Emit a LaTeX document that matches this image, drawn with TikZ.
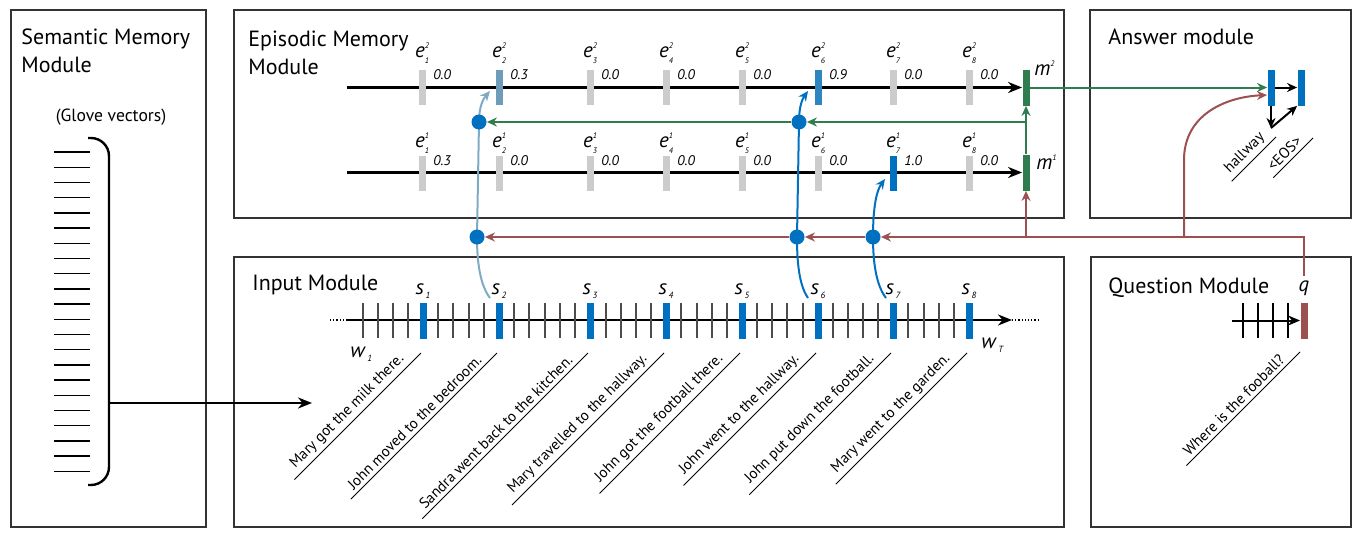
\documentclass[tikz,border=0pt]{standalone}
\usepackage{fontspec}
\setmainfont{PT Sans}
\usetikzlibrary{arrows.meta,calc}
\definecolor{boxline}{HTML}{333333}
\definecolor{tickgray}{HTML}{CCCCCC}
\definecolor{blue}{HTML}{0070C0}
\definecolor{midblue}{HTML}{2E86C1}
\definecolor{paleblue}{HTML}{6F9DB9}
\definecolor{curveblue}{HTML}{7FAAC4}
\definecolor{green}{HTML}{2F7D4F}
\definecolor{brown}{HTML}{9C5050}
\tikzset{
  module/.style={draw=boxline,line width=0.65pt},
  title/.style={anchor=north west,inner sep=0pt,align=left,font=\fontsize{11}{14}\selectfont},
  ebar/.style={minimum width=3.5pt,minimum height=17.5pt,inner sep=0pt},
  sbar/.style={fill=blue,minimum width=3.5pt,minimum height=18pt,inner sep=0pt},
  mbar/.style={fill=green,minimum width=3.5pt,minimum height=18pt,inner sep=0pt},
  dot/.style={circle,fill=blue,minimum size=7.5pt,inner sep=0pt},
  elabel/.style={anchor=base,inner sep=0pt,font=\fontsize{10.5}{10}\selectfont},
  value/.style={anchor=base west,inner sep=0pt,font=\fontsize{7}{8}\selectfont\itshape},
  sentence/.style={rotate=45,anchor=south east,inner xsep=0pt,inner ysep=1.8pt,font=\fontsize{7.5}{8}\selectfont},
  wordtick/.style={draw=black!70,line width=0.6pt},
  timeline/.style={draw=black,line width=1.2pt,-{Stealth[length=7pt,width=5.5pt]}},
  arr/.style={-{Stealth[length=5pt,width=4.5pt]},line width=1pt},
  greenarr/.style={arr,draw=green},
  brownarr/.style={arr,draw=brown},
}
\newcommand\supsub[3]{\textit{#1}\rlap{\raisebox{0.85ex}{\fontsize{4}{4}\selectfont\itshape #2}}\raisebox{-0.6ex}{\fontsize{4}{4}\selectfont\itshape #3}}
\newcommand\subonly[2]{\textit{#1}\raisebox{-0.45ex}{\fontsize{4.5}{5}\selectfont\itshape\,#2}}
\newcommand\sent[1]{\kern4pt#1\kern8pt}

\begin{document}
\begin{tikzpicture}[x=0.5pt,y=-0.5pt]
  \useasboundingbox (0,0) rectangle (1362,536);
  % module frames
  \draw[module] (11,10) rectangle (206,527);
  \draw[module] (234,10) rectangle (1064,218);
  \draw[module] (1090,10) rectangle (1351,218);
  \draw[module] (234,257) rectangle (1064,527);
  \draw[module] (1091,257) rectangle (1351,527);
  \node[title] (semtitle) at (21,28) {Semantic Memory\\Module};
  \node[title] (epititle) at (248,31) {Episodic Memory\\Module};
  \node[title] (anstitle) at (1108,28) {Answer module};
  \node[title] (inptitle) at (252,275) {Input Module};
  \node[title] (questitle) at (1108,277) {Question Module};

  % semantic memory
  \node[font=\fontsize{8.8}{10}\selectfont] (glove) at (111,117) {(Glove vectors)};
  \foreach \k in {0,...,21}
    \draw[line width=0.7pt] (54,{152+15.2*\k}) -- (90,{152+15.2*\k});
  \draw[line width=1.2pt,rounded corners=9pt] (88,138) -- (109,138) -- (109,485) -- (88,485);
  \coordinate (brk) at (109,403);
  \coordinate (semin) at (312,403);
  \draw[timeline] (brk) -- (semin);

  % episodic memory
  \node[mbar] (m2) at (1026,87.5) {};
  \node[mbar] (m1) at (1026,172.5) {};
  \node[anchor=base west,inner sep=0pt,font=\fontsize{10.5}{10}\selectfont] (m2lab) at (1034,75) {\textit{m}\raisebox{0.8ex}{\fontsize{4}{4}\selectfont\itshape 2}};
  \node[anchor=base west,inner sep=0pt,font=\fontsize{10.5}{10}\selectfont] (m1lab) at (1036,169) {\textit{m}\raisebox{0.8ex}{\fontsize{4}{4}\selectfont\itshape 1}};
  \coordinate (eu0) at (347,87.5);
  \coordinate (el0) at (347,172.5);
  \draw[timeline] (eu0) -- (m2);
  \draw[timeline] (el0) -- (m1);
  \foreach \i/\x/\cu/\vu/\cl/\vl in {
    1/422/tickgray/0.0/tickgray/0.3,
    2/499/paleblue/0.3/tickgray/0.0,
    3/590/tickgray/0.0/tickgray/0.0,
    4/666/tickgray/0.0/tickgray/0.0,
    5/742/tickgray/0.0/tickgray/0.0,
    6/818/midblue/0.9/tickgray/0.0,
    7/893/tickgray/0.0/blue/1.0,
    8/969/tickgray/0.0/tickgray/0.0}{
    \node[ebar,fill=\cu] (eu\i) at (\x,87.5) {};
    \node[ebar,fill=\cl] (el\i) at (\x,173.5) {};
    \node[elabel] (eul\i) at (\x,57) {\supsub{e}{2}{\i}};
    \node[elabel] (ell\i) at (\x,147) {\supsub{e}{1}{\i}};
    \node[value] (vu\i) at (\x+11,79) {\vu};
    \node[value] (vl\i) at (\x+11,165) {\vl};
  }

  % input module
  \coordinate (idl) at (330,320);
  \coordinate (istart) at (347,320);
  \coordinate (iend) at (1012,320);
  \coordinate (idr) at (1040,320);
  \draw[densely dotted,line width=0.6pt] (idl) -- (istart);
  \draw[densely dotted,line width=0.6pt] (iend) -- (idr);
  \draw[timeline] (istart) -- (iend);
  \foreach \x in {363,378,393,408,438,453,469,484,514,529,545,560,575,606,621,636,651,
                  681,697,712,727,757,772,787,803,833,848,863,878,908,924,939,954}
    \draw[wordtick] (\x,303) -- (\x,338);
  \foreach \i/\x/\txt in {
    1/423/Mary got the milk there.,
    2/499/John moved to the bedroom.,
    3/590/Sandra went back to the kitchen.,
    4/666/Mary travelled to the hallway.,
    5/742/John got the football there.,
    6/818/John went to the hallway.,
    7/893/John put down the football.,
    8/969/Mary went to the garden.}{
    \node[sbar] (s\i) at (\x,320.5) {};
    \node[elabel] (sl\i) at (\x,294) {\subonly{s}{\i}};
    \node[sentence] (t\i) at (\x-2,353) {\sent{\txt}};
    \draw[line width=0.5pt] (t\i.south west) -- (t\i.south east);
  }
  \node[anchor=base west,inner sep=0pt,font=\fontsize{10.5}{10}\selectfont] (w1) at (350,357) {\subonly{w}{1}};
  \node[anchor=base west,inner sep=0pt,font=\fontsize{10.5}{10}\selectfont] (wT) at (981,348) {\subonly{w}{T}};

  % question module
  \node[fill=brown,minimum width=3.5pt,minimum height=18pt,inner sep=0pt] (qb) at (1304,320.5) {};
  \node[elabel,inner sep=2pt] (q) at (1304,291) {\textit{q}};
  \foreach \x in {1243,1258,1273,1288}
    \draw[wordtick,draw=black] (\x,303) -- (\x,338);
  \coordinate (qstart) at (1232,320.5);
  \draw[arr,-{Stealth[length=6pt,width=5pt]}] (qstart) -- (qb);
  \node[sentence] (tq) at (1300,352) {\sent{Where is the fooball?}};
  \draw[line width=0.5pt] (tq.south west) -- (tq.south east);

  % answer module
  \node[sbar] (a1) at (1271,87.5) {};
  \node[sbar] (a2) at (1301,87.5) {};
  \coordinate (aout) at (1271,128);
  \draw[arr] (a1) -- (a2);
  \draw[arr] (a1.south) -- (aout);
  \draw[arr] (aout) -- (a2.south west);
  \node[sentence] (th) at (1276,137) {\kern2pt hallway\kern4pt};
  \draw[line width=0.5pt] (th.south west) -- (th.south east);
  \node[sentence] (te) at (1313,138) {\kern2pt<EOS>\kern5pt};
  \draw[line width=0.5pt] (te.south west) -- (te.south east);

  % attention curves
  \coordinate (c2u) at (479,122);
  \coordinate (c6u) at (799,122);
  \coordinate (c2) at (477,237);
  \coordinate (c6) at (797,237);
  \coordinate (c7) at (873,237);
  \coordinate (from2) at (490,298);
  \coordinate (from6) at (808,298);
  \coordinate (from7) at (886,298);
  \coordinate (to2) at (490,91);
  \coordinate (to6) at (808,91);
  \coordinate (to7) at (885,179);
  \draw[arr,draw=curveblue] (from2) .. controls (480,285) and (477,262) .. (c2) -- (c2u)
    .. controls (479,105) and (484,98) .. (to2);
  \draw[arr,draw=blue] (from6) .. controls (799,285) and (797,262) .. (c6) -- (c6u)
    .. controls (799,105) and (803,98) .. (to6);
  \draw[arr,draw=blue] (from7) .. controls (876,285) and (873,262) .. (c7)
    .. controls (873,205) and (877,190) .. (to7);
  \node[dot] (d2u) at (c2u) {};
  \node[dot] (d6u) at (c6u) {};
  \node[dot] (d2) at (c2) {};
  \node[dot] (d6) at (c6) {};
  \node[dot] (d7) at (c7) {};

  % episodic updates
  \coordinate (gsplit) at (1026,122);
  \draw[greenarr] (m1) -- (m2);
  \draw[greenarr] (gsplit) -- (d6u);
  \draw[greenarr] (d6u) -- (d2u);
  \draw[greenarr] (m2) -- (a1);

  % question flow
  \coordinate (rM) at (1026,237);
  \coordinate (rA) at (1184,237);
  \coordinate (ain) at (1267,95);
  \draw[brownarr] (q.north) |- (d7);
  \draw[brownarr] (d7) -- (d6);
  \draw[brownarr] (d6) -- (d2);
  \draw[brownarr] (rM) -- (m1);
  \draw[brownarr] (rA) -- (1184,160) .. controls (1184,115) and (1225,97) .. (ain);
\end{tikzpicture}
\end{document}
